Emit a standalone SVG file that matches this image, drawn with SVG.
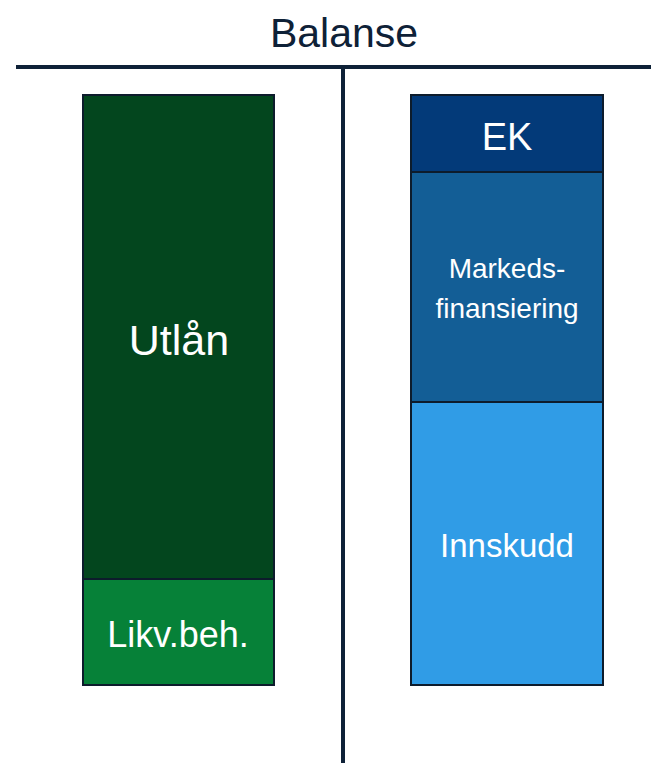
<svg xmlns="http://www.w3.org/2000/svg" width="651" height="763" viewBox="0 0 651 763">
<style>
.box{stroke:#0d1c2c;stroke-width:2}
.lbl{font-family:"Liberation Sans","Open Sans",sans-serif;fill:#ffffff;text-anchor:middle}
.rule{stroke:#0e2137;stroke-width:4;fill:none}
</style>
<rect width="651" height="763" fill="#ffffff"/>
<text x="344" y="47" font-family="Liberation Sans, Open Sans, sans-serif" font-size="41" fill="#0e2137" text-anchor="middle">Balanse</text>
<g id="connectors">
<line class="rule" x1="16" y1="67" x2="651" y2="67"/>
<line class="rule" x1="343" y1="67" x2="343" y2="763"/>
</g>
<g id="utlan">
<rect class="box" x="83" y="95" width="191" height="484" fill="#03461e"/>
<text class="lbl" x="179" y="355" font-size="43">Utlån</text>
</g>
<g id="likv">
<rect class="box" x="83" y="579" width="191" height="106" fill="#068138"/>
<text class="lbl" x="178" y="647" font-size="36">Likv.beh.</text>
</g>
<g id="ek">
<rect class="box" x="411" y="95" width="192" height="77" fill="#033a79"/>
<text class="lbl" x="507" y="150" font-size="38">EK</text>
</g>
<g id="marked">
<rect class="box" x="411" y="172" width="192" height="230" fill="#135e96"/>
<text class="lbl" x="507" y="278" font-size="28">Markeds-</text>
<text class="lbl" x="507" y="318" font-size="28">finansiering</text>
</g>
<g id="innskudd">
<rect class="box" x="411" y="402" width="192" height="283" fill="#309ce6"/>
<text class="lbl" x="507" y="557" font-size="33">Innskudd</text>
</g>
</svg>
